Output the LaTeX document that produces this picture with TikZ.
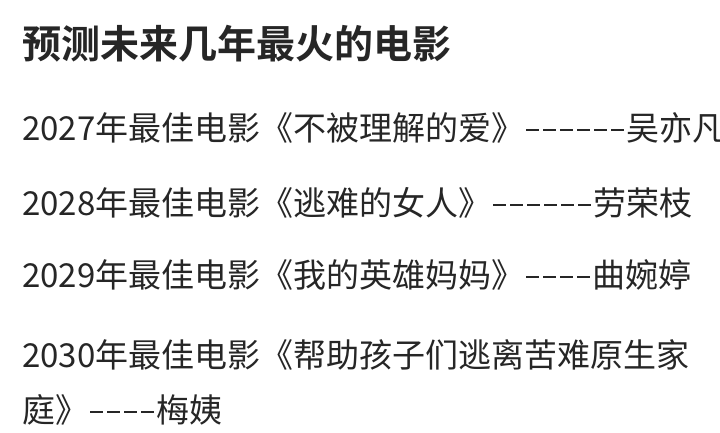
\documentclass[tikz,border=0pt]{standalone}
\usepackage{fontspec}
\newfontfamily\cjk{Noto Sans CJK SC}
\newfontfamily\cjkbold{Noto Sans CJK SC Bold}
\newcommand{\dsh}{\kern2bp\rule[0.3em]{13bp}{2bp}\kern2bp}
\begin{document}
\begin{tikzpicture}[x=1bp,y=-1bp,
  line/.style={anchor=west,inner sep=0pt,font=\cjk\fontsize{33bp}{36bp}\selectfont,text=black!85}]
\useasboundingbox[fill=white] (0,0) rectangle (720,432);
\node[anchor=west,inner sep=0pt,font=\cjkbold\fontsize{39bp}{42bp}\selectfont,text=black!85] (title) at (22,44) {预测未来几年最火的电影};
\node[line] (y2027) at (22,128) {2027年最佳电影《不被理解的爱》\dsh\dsh\dsh\dsh\dsh\dsh 吴亦凡};
\node[line] (y2028) at (22,203) {2028年最佳电影《逃难的女人》\dsh\dsh\dsh\dsh\dsh\dsh 劳荣枝};
\node[line] (y2029) at (22,275) {2029年最佳电影《我的英雄妈妈》\dsh\dsh\dsh\dsh 曲婉婷};
\node[line] (y2030) at (22,355) {2030年最佳电影《帮助孩子们逃离苦难原生家};
\node[line] (y2030b) at (22,410) {庭》\dsh\dsh\dsh\dsh 梅姨};
\end{tikzpicture}
\end{document}
